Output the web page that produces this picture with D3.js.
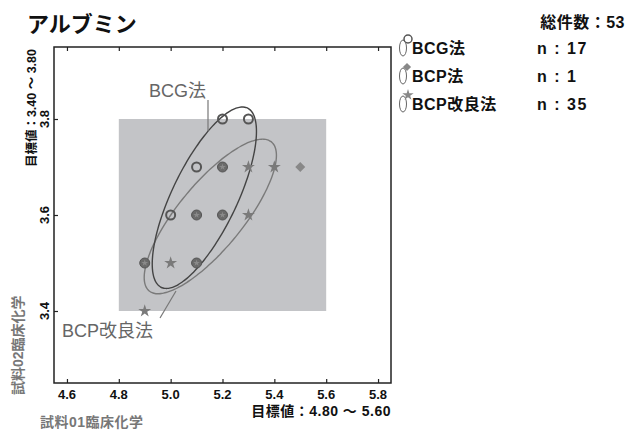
<!DOCTYPE html>
<html>
<head>
<meta charset="utf-8">
<script src="https://cdn.jsdelivr.net/npm/d3@7"></script>
<style>
  html, body { margin: 0; padding: 0; background: #fff; }
  svg { display: block; }
  text { font-family: "Liberation Sans", "Noto Sans CJK JP", sans-serif; }
</style>
</head>
<body>
<svg id="chart" width="640" height="430"></svg>
<script>
// ---- data ----
const xTicks = [4.6, 4.8, 5.0, 5.2, 5.4, 5.6, 5.8];
const yTicks = [3.4, 3.6, 3.8];
const targetX = [4.80, 5.60];
const targetY = [3.40, 3.80];

// BCG法 results (x: 試料01, y: 試料02)
const bcgX = [5.2, 5.3, 5.1, 5.2, 5.0, 5.1, 5.2, 4.9, 5.1];
const bcgY = [3.8, 3.8, 3.7, 3.7, 3.6, 3.6, 3.6, 3.5, 3.5];
// BCP法 results
const bcpX = [5.5];
const bcpY = [3.7];
// BCP改良法 results
const bcpModX = [5.2, 5.3, 5.4, 5.1, 5.2, 5.3, 4.9, 5.0, 5.1, 4.9];
const bcpModY = [3.7, 3.7, 3.7, 3.6, 3.6, 3.6, 3.5, 3.5, 3.5, 3.4];

// ellipses: [centerX, centerY, halfSpanX, halfSpanY, correlation]
const ellipseBCG = [5.130, 3.636, 0.201, 0.189, 0.73];
const ellipseBCPMod = [5.153, 3.597, 0.255, 0.161, 0.79];

const legendNames = ["BCG法", "BCP法", "BCP改良法"];
const legendCounts = [17, 1, 35];
const totalCount = 53;

// ---- layout ----
const svg = d3.select("#chart");
const L = 54, R = 391, T = 47, B = 383;
const x = d3.scaleLinear().domain([4.55, 5.85]).range([L, R]);
const y = d3.scaleLinear().domain([3.25, 3.95]).range([B, T]);

const CJK = "'Liberation Sans', 'Noto Sans CJK JP', sans-serif";

// target range
svg.append("rect")
  .attr("x", x(targetX[0])).attr("y", y(targetY[1]))
  .attr("width", x(targetX[1]) - x(targetX[0]))
  .attr("height", y(targetY[0]) - y(targetY[1]))
  .attr("fill", "#c3c4c7");

// axes (ticks pointing inward)
const gx = svg.append("g").attr("transform", `translate(0,${B})`)
  .call(d3.axisTop(x).tickValues(xTicks).tickSize(4).tickFormat(""));
const gxTop = svg.append("g").attr("transform", `translate(0,${T})`)
  .call(d3.axisBottom(x).tickValues(xTicks).tickSize(4).tickFormat(""));
const gy = svg.append("g").attr("transform", `translate(${L},0)`)
  .call(d3.axisRight(y).tickValues(yTicks).tickSize(4).tickFormat(""));
[gx, gxTop, gy].forEach(g => {
  g.select(".domain").remove();
  g.selectAll(".tick line").attr("stroke", "#222").attr("stroke-width", 1.2);
});
svg.append("rect")
  .attr("x", L).attr("y", T).attr("width", R - L).attr("height", B - T)
  .attr("fill", "none").attr("stroke", "#222").attr("stroke-width", 1.5);

// x tick labels
svg.selectAll(".xlab").data(xTicks).join("text")
  .attr("x", d => x(d)).attr("y", 399)
  .attr("text-anchor", "middle")
  .attr("font-size", 13).attr("font-weight", "bold").attr("fill", "#111")
  .text(d => d.toFixed(1));

// y tick labels (rotated)
svg.selectAll(".ylab").data(yTicks).join("text")
  .attr("transform", d => `translate(49,${y(d)}) rotate(-90)`)
  .attr("text-anchor", "middle")
  .attr("font-size", 13).attr("font-weight", "bold").attr("fill", "#111")
  .text(d => d.toFixed(1));

// axis titles
svg.append("text")
  .attr("x", R).attr("y", 416).attr("text-anchor", "end")
  .attr("font-size", 14).attr("font-weight", "bold").attr("fill", "#111")
  .attr("font-family", CJK).attr("letter-spacing", 0.5)
  .text(`目標値：${targetX[0].toFixed(2)} ～ ${targetX[1].toFixed(2)}`);
svg.append("text")
  .attr("transform", `translate(36,49) rotate(-90)`).attr("text-anchor", "end")
  .attr("font-size", 12.5).attr("font-weight", "bold").attr("fill", "#111")
  .attr("font-family", CJK)
  .text(`目標値：${targetY[0].toFixed(2)} ～ ${targetY[1].toFixed(2)}`);
svg.append("text")
  .attr("x", 40).attr("y", 427)
  .attr("font-size", 14).attr("font-weight", "bold").attr("fill", "#777")
  .attr("font-family", CJK).attr("letter-spacing", 0.5)
  .text("試料01臨床化学");
svg.append("text")
  .attr("transform", `translate(23,395) rotate(-90)`)
  .attr("font-size", 14).attr("font-weight", "bold").attr("fill", "#777")
  .attr("font-family", CJK)
  .text("試料02臨床化学");

// title and total
svg.append("text")
  .attr("x", 27).attr("y", 32)
  .attr("font-size", 22).attr("font-weight", "bold").attr("fill", "#111")
  .attr("font-family", "'Noto Sans CJK JP', sans-serif")
  .text("アルブミン");
svg.append("text")
  .attr("x", 625).attr("y", 28).attr("text-anchor", "end")
  .attr("font-size", 16).attr("font-weight", "bold").attr("fill", "#111")
  .attr("font-family", CJK).attr("letter-spacing", 0.5)
  .text(`総件数：${totalCount}`);

// ellipses
function ellipsePoints(e) {
  const [cx, cy, sx, sy, r] = e;
  const phi = Math.acos(r);
  return d3.range(0, 360, 3).map(deg => {
    const t = deg * Math.PI / 180;
    return [cx + sx * Math.cos(t), cy + sy * Math.cos(t - phi)];
  });
}
const ellLine = d3.line().x(d => x(d[0])).y(d => y(d[1])).curve(d3.curveCardinalClosed);
svg.append("path").attr("d", ellLine(ellipsePoints(ellipseBCPMod)))
  .attr("fill", "none").attr("stroke", "#7a7a7a").attr("stroke-width", 1.4);
svg.append("path").attr("d", ellLine(ellipsePoints(ellipseBCG)))
  .attr("fill", "none").attr("stroke", "#444").attr("stroke-width", 1.4);

// callout labels
svg.append("line").attr("x1", 208).attr("y1", 100).attr("x2", 208).attr("y2", 131)
  .attr("stroke", "#777").attr("stroke-width", 1.2);
svg.append("text").attr("x", 149).attr("y", 97)
  .attr("font-size", 18).attr("fill", "#666").attr("font-family", CJK)
  .text("BCG法");
svg.append("line").attr("x1", 160).attr("y1", 318).attr("x2", 176).attr("y2", 291)
  .attr("stroke", "#777").attr("stroke-width", 1.2);
svg.append("text").attr("x", 62).attr("y", 337)
  .attr("font-size", 18).attr("fill", "#666").attr("font-family", CJK)
  .text("BCP改良法");

// markers
const star = d3.symbol().type(d3.symbolStar).size(52);
const starSmall = d3.symbol().type(d3.symbolStar).size(14);
const diamond = d3.symbol().type(d3.symbolSquare).size(50);

const bcg = bcgX.map((v, i) => [v, bcgY[i]]);
const bcpMod = bcpModX.map((v, i) => [v, bcpModY[i]]);
const bcp = bcpX.map((v, i) => [v, bcpY[i]]);
const key = p => p[0].toFixed(2) + "," + p[1].toFixed(2);
const modKeys = new Set(bcpMod.map(key));
const bcgKeys = new Set(bcg.map(key));

// BCP改良法 only
svg.selectAll(".star").data(bcpMod.filter(p => !bcgKeys.has(key(p)))).join("path")
  .attr("transform", p => `translate(${x(p[0])},${y(p[1])})`)
  .attr("d", star).attr("fill", "#7a7a7a");
// BCP法
svg.selectAll(".dia").data(bcp).join("path")
  .attr("transform", p => `translate(${x(p[0])},${y(p[1])}) rotate(45)`)
  .attr("d", diamond).attr("fill", "#888");
// BCG法 only
svg.selectAll(".ring").data(bcg.filter(p => !modKeys.has(key(p)))).join("circle")
  .attr("cx", p => x(p[0])).attr("cy", p => y(p[1])).attr("r", 4.5)
  .attr("fill", "none").attr("stroke", "#555").attr("stroke-width", 2);
// both methods at the same point
const both = bcg.filter(p => modKeys.has(key(p)));
svg.selectAll(".both").data(both).join("circle")
  .attr("cx", p => x(p[0])).attr("cy", p => y(p[1])).attr("r", 5)
  .attr("fill", "#6a6a6a").attr("stroke", "#555").attr("stroke-width", 1);
svg.selectAll(".bothStar").data(both).join("path")
  .attr("transform", p => `translate(${x(p[0])},${y(p[1])})`)
  .attr("d", starSmall).attr("fill", "#8a8a8a");

// legend
const legY = [48, 76, 104];
const lg = svg.selectAll(".leg").data(legendNames).join("g")
  .attr("transform", (d, i) => `translate(0,${legY[i]})`);
lg.append("ellipse").attr("cx", 403).attr("cy", 0).attr("rx", 3.5).attr("ry", 8)
  .attr("fill", "none").attr("stroke", "#666").attr("stroke-width", 1);
lg.each(function (d, i) {
  const g = d3.select(this);
  if (i === 0) {
    g.append("circle").attr("cx", 408).attr("cy", -9).attr("r", 4)
      .attr("fill", "#fff").attr("stroke", "#555").attr("stroke-width", 1.5);
  } else if (i === 1) {
    g.append("path").attr("transform", "translate(407,-9) rotate(45)")
      .attr("d", d3.symbol().type(d3.symbolSquare).size(34)).attr("fill", "#888");
  } else {
    g.append("path").attr("transform", "translate(408,-9)")
      .attr("d", d3.symbol().type(d3.symbolStar).size(40)).attr("fill", "#888");
  }
});
lg.append("text").attr("x", 412).attr("y", 6)
  .attr("font-size", 16).attr("font-weight", "bold").attr("fill", "#111")
  .attr("font-family", CJK).attr("letter-spacing", 0.5).text(d => d);
lg.append("text").attr("x", 537).attr("y", 6)
  .attr("font-size", 16).attr("font-weight", "bold").attr("fill", "#111")
  .attr("font-family", CJK).attr("letter-spacing", 1.5)
  .text((d, i) => `n : ${legendCounts[i]}`);
</script>
</body>
</html>
